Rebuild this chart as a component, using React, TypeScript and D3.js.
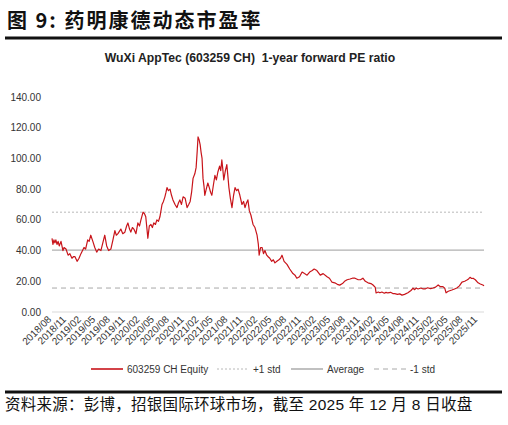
import React from 'react';
import * as d3 from 'd3';

// 1-year forward PE
const peDates: string[] = [
  '2018-08-01', '2018-08-07', '2018-08-13', '2018-08-19', '2018-08-25', '2018-09-01', '2018-09-08', '2018-09-15',
  '2018-09-26', '2018-10-08', '2018-10-15', '2018-10-27', '2018-11-09', '2018-11-20', '2018-12-03', '2018-12-12',
  '2018-12-22', '2019-01-04', '2019-01-16', '2019-01-28', '2019-02-16', '2019-02-26', '2019-03-11', '2019-03-20',
  '2019-03-30', '2019-04-12', '2019-04-24', '2019-05-06', '2019-05-18', '2019-06-01', '2019-06-13', '2019-06-25',
  '2019-07-07', '2019-07-19', '2019-08-02', '2019-08-15', '2019-08-27', '2019-09-05', '2019-09-15', '2019-10-03',
  '2019-10-15', '2019-10-28', '2019-11-08', '2019-11-16', '2019-11-26', '2019-12-04', '2019-12-14', '2019-12-23',
  '2020-01-05', '2020-01-17', '2020-01-27', '2020-02-05', '2020-02-18', '2020-02-27', '2020-03-06', '2020-03-19',
  '2020-03-28', '2020-04-07', '2020-04-16', '2020-04-25', '2020-05-05', '2020-05-14', '2020-05-24', '2020-06-02',
  '2020-06-15', '2020-06-24', '2020-07-03', '2020-07-10', '2020-07-16', '2020-07-25', '2020-08-04', '2020-08-13',
  '2020-08-22', '2020-09-04', '2020-09-16', '2020-09-25', '2020-10-04', '2020-10-14', '2020-10-24', '2020-11-06',
  '2020-11-18', '2020-11-28', '2020-12-07', '2020-12-16', '2020-12-25', '2021-01-05', '2021-01-13', '2021-01-20',
  '2021-01-25', '2021-02-01', '2021-02-07', '2021-02-13', '2021-02-19', '2021-02-25', '2021-03-03', '2021-03-08',
  '2021-03-17', '2021-03-27', '2021-04-05', '2021-04-13', '2021-04-21', '2021-05-01', '2021-05-10', '2021-05-19',
  '2021-05-28', '2021-06-08', '2021-06-15', '2021-06-22', '2021-06-28', '2021-07-04', '2021-07-14', '2021-07-23',
  '2021-07-30', '2021-08-05', '2021-08-14', '2021-08-24', '2021-09-03', '2021-09-12', '2021-09-22', '2021-10-01',
  '2021-10-12', '2021-10-25', '2021-11-04', '2021-11-13', '2021-11-22', '2021-12-01', '2021-12-10', '2021-12-20',
  '2022-01-02', '2022-01-14', '2022-01-27', '2022-02-04', '2022-02-09', '2022-02-18', '2022-02-27', '2022-03-08',
  '2022-03-17', '2022-03-28', '2022-04-06', '2022-04-16', '2022-04-28', '2022-05-08', '2022-05-18', '2022-05-30',
  '2022-06-12', '2022-06-22', '2022-07-01', '2022-07-14', '2022-08-01', '2022-08-18', '2022-09-07', '2022-09-20',
  '2022-10-01', '2022-10-18', '2022-11-03', '2022-11-18', '2022-12-04', '2022-12-20', '2023-01-05', '2023-01-17',
  '2023-02-03', '2023-02-24', '2023-03-14', '2023-04-07', '2023-04-22', '2023-05-07', '2023-05-25', '2023-06-10',
  '2023-06-25', '2023-07-12', '2023-07-25', '2023-08-10', '2023-08-28', '2023-09-12', '2023-09-28', '2023-10-18',
  '2023-11-01', '2023-11-16', '2023-12-01', '2023-12-18', '2024-01-05', '2024-01-18', '2024-02-01', '2024-02-06',
  '2024-02-20', '2024-03-01', '2024-03-13', '2024-03-28', '2024-04-08', '2024-04-19', '2024-05-06', '2024-05-20',
  '2024-06-01', '2024-06-18', '2024-07-02', '2024-07-16', '2024-08-01', '2024-08-22', '2024-09-10', '2024-09-23',
  '2024-10-03', '2024-10-12', '2024-10-24', '2024-11-10', '2024-11-25', '2024-12-07', '2024-12-22', '2025-01-10',
  '2025-01-25', '2025-02-10', '2025-02-26', '2025-03-12', '2025-03-28', '2025-04-08', '2025-04-16', '2025-04-30',
  '2025-05-22', '2025-06-08', '2025-06-22', '2025-07-08', '2025-07-24', '2025-08-10', '2025-08-24', '2025-09-03',
  '2025-09-12', '2025-09-22', '2025-10-01', '2025-10-15', '2025-11-01', '2025-11-15', '2025-12-01', '2025-12-08',
];

const peValues: number[] = [
  48, 44, 47, 45, 47, 44, 46, 43,
  46, 40, 42, 41, 37, 38, 35, 36,
  36, 33, 35, 38, 42, 41, 47, 46,
  50, 46, 42, 39, 41, 40, 45, 50,
  43, 40, 41, 47, 53, 50, 51, 54,
  51, 52, 56, 58, 54, 52, 55, 54,
  51, 58, 56, 60, 65, 64, 62, 48,
  56, 57, 55, 58, 57, 60, 59, 62,
  70, 72, 75, 78, 81, 79, 80, 76,
  73, 70, 68, 71, 73, 70, 75, 74,
  68, 70, 72, 78, 87, 90, 94, 105,
  114, 112, 109, 104, 100, 87, 82, 76,
  80, 84, 81, 78, 76, 83, 89, 86,
  91, 95, 92, 99, 93, 86, 92, 96,
  88, 81, 74, 68, 76, 81, 79, 80,
  76, 70, 72, 68, 71, 73, 66, 63,
  57, 55, 50, 44, 37, 42, 42, 38,
  40, 37, 36, 35, 33, 34, 32, 33,
  34, 35, 37, 33, 31, 28, 25, 24,
  22, 23, 26, 25, 24, 26, 27, 28,
  27, 24, 25, 23, 22, 19.5, 19, 18,
  17.5, 18.5, 20, 21, 21.5, 22, 22, 21,
  21, 22, 20, 19, 18.5, 17.6, 16, 12.4,
  13, 12.5, 13, 12.2, 12.8, 12.4, 12.8, 12,
  12, 11.5, 11.8, 11, 11.5, 12.5, 14, 15.5,
  14.5, 15.6, 15, 15.6, 15, 15, 15.8, 15.2,
  15.6, 16.2, 17.6, 16.5, 16.5, 15.5, 12.5, 13.5,
  14.3, 15, 15.6, 17, 19.5, 20, 20.8, 21.5,
  22.6, 21.8, 22, 21, 19, 18.2, 17.6, 17,
];

const stdLevels = { plus: 65.0, avg: 40.3, minus: 15.6 };
const yTicks: number[] = [0, 20, 40, 60, 80, 100, 120, 140];

const legendItems = [
  { label: '603259 CH Equity', color: '#c8141a', dash: '', width: 1.6 },
  { label: '+1 std', color: '#b8b8b8', dash: '2,2', width: 1 },
  { label: 'Average', color: '#b0b0b0', dash: '', width: 1.6 },
  { label: '-1 std', color: '#a8a8a8', dash: '5,4', width: 1 },
];

const W = 508;
const H = 425;
const plot = { left: 52, right: 484, top: 97, bottom: 312 };
const latin = '"Liberation Sans", Arial, "Noto Sans CJK SC", sans-serif';
const cjk = '"Noto Sans CJK SC", "Liberation Sans", sans-serif';

export default function App() {
  const parse = d3.timeParse('%Y-%m-%d');
  const data = peDates.map((d, i) => ({ date: parse(d) as Date, value: peValues[i] }));

  const x = d3.scaleTime()
    .domain([new Date(2018, 7, 1), new Date(2025, 11, 8)])
    .range([plot.left, plot.right]);
  const y = d3.scaleLinear().domain([0, 140]).range([plot.bottom, plot.top]);

  const line = d3.line<{ date: Date; value: number }>()
    .x(d => x(d.date))
    .y(d => y(d.value));

  const xTicks = d3.timeMonth.range(new Date(2018, 7, 1), new Date(2025, 11, 2), 3);
  const fmt = d3.timeFormat('%Y/%m');

  const legendX = [91, 217, 291, 374];

  return (
    <svg width={W} height={H} style={{ position: 'absolute', left: 0, top: 0, background: '#fff' }}>
      {/* header */}
      <text x={7} y={28} fontFamily={cjk} fontWeight="bold" fontSize={20} letterSpacing={2} fill="#111">图 9: 药明康德动态市盈率</text>
      <rect x={5} y={36.5} width={497} height={3} fill="#111" />
      <text x={250} y={62} textAnchor="middle" fontFamily={latin} fontWeight="bold" fontSize={12.2} fill="#222"
        style={{ whiteSpace: 'pre' }}>
        {'WuXi AppTec (603259 CH)  1-year forward PE ratio'}
      </text>

      {/* y axis labels */}
      {yTicks.map(t => (
        <text key={t} x={41} y={y(t) + 3.5} textAnchor="end" fontFamily={latin} fontSize={10} fill="#333">
          {t.toFixed(2)}
        </text>
      ))}

      {/* baseline */}
      <line x1={plot.left} x2={plot.right} y1={y(0)} y2={y(0)} stroke="#d9d9d9" strokeWidth={1.2} />

      {/* std bands */}
      <line x1={plot.left} x2={plot.right} y1={y(stdLevels.plus)} y2={y(stdLevels.plus)} stroke="#b8b8b8" strokeDasharray="2,2" strokeWidth={1} />
      <line x1={plot.left} x2={plot.right} y1={y(stdLevels.avg)} y2={y(stdLevels.avg)} stroke="#b0b0b0" strokeWidth={1.2} />
      <line x1={plot.left} x2={plot.right} y1={y(stdLevels.minus)} y2={y(stdLevels.minus)} stroke="#a8a8a8" strokeDasharray="5,4" strokeWidth={1} />

      {/* PE series */}
      <path d={line(data) || ''} fill="none" stroke="#c8141a" strokeWidth={1.2} strokeLinejoin="round" />

      {/* x axis labels */}
      {xTicks.map(t => (
        <text key={t.getTime()} transform={`translate(${x(t)},${plot.bottom + 8}) rotate(-45)`} textAnchor="end"
          fontFamily={latin} fontSize={10} fill="#333">
          {fmt(t)}
        </text>
      ))}

      {/* legend */}
      {legendItems.map((item, i) => (
        <g key={item.label} transform={`translate(${legendX[i]},369)`}>
          <line x1={0} x2={32} y1={0} y2={0} stroke={item.color} strokeWidth={item.width} strokeDasharray={item.dash} />
          <text x={36} y={3.5} fontFamily={latin} fontSize={10} fill="#333">{item.label}</text>
        </g>
      ))}

      {/* footer */}
      <rect x={5} y={390.5} width={497} height={3} fill="#111" />
      <text x={5} y={410} fontFamily={latin} fontSize={15.5} letterSpacing={0.25} fill="#111">
        资料来源：彭博，招银国际环球市场，截至 2025 年 12 月 8 日收盘
      </text>
    </svg>
  );
}
